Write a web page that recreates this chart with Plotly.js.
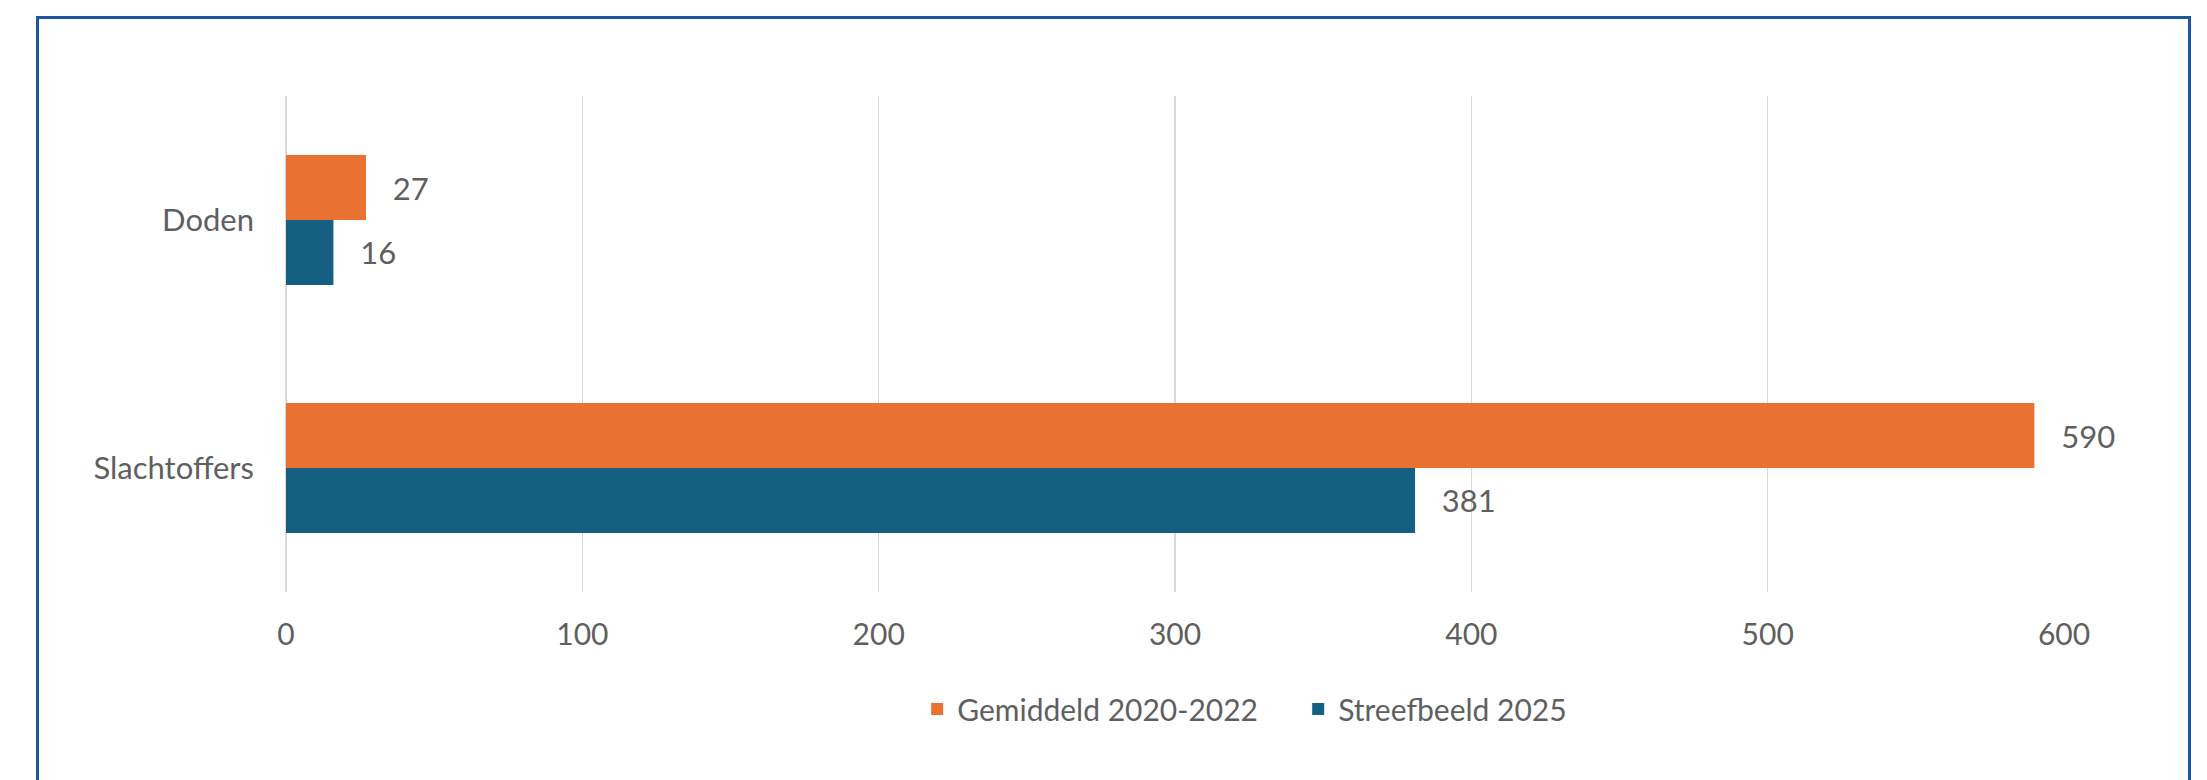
<!DOCTYPE html>
<html>
<head>
<meta charset="utf-8">
<script src="https://cdn.plot.ly/plotly-3.0.1.min.js"></script>
<style>
  html, body { margin: 0; padding: 0; background: #ffffff; }
  #wrap { position: relative; width: 2207px; height: 780px; overflow: hidden; }
  #chart { width: 2207px; height: 780px; }
  #frame { position: absolute; left: 36px; top: 16px; width: 2155px; height: 900px;
           border: 3px solid #1a56a2; pointer-events: none; box-sizing: border-box; }
</style>
</head>
<body>
<div id="wrap">
  <div id="chart"></div>
  <div id="frame"></div>
</div>
<script>
const categories = ['Doden', 'Slachtoffers'];
const seriesNames = ['Gemiddeld 2020-2022', 'Streefbeeld 2025'];
const gemiddeld = [27, 590];
const streefbeeld = [16, 381];
const xTicks = [0, 100, 200, 300, 400, 500, 600];

const textColor = '#5f5f5f';
const fontFamily = 'Lato, "Open Sans", sans-serif';

function barTrace(name, values, color) {
  return {
    type: 'bar',
    orientation: 'h',
    name: name,
    y: categories,
    x: values,
    marker: { color: color },
    texttemplate: '\u00a0\u00a0\u00a0%{x}',
    textposition: 'outside',
    cliponaxis: false,
    constraintext: 'none',
    textfont: { family: fontFamily, size: 31, color: textColor },
    hoverinfo: 'x+name'
  };
}

const data = [
  barTrace(seriesNames[0], gemiddeld, '#E97132'),
  barTrace(seriesNames[1], streefbeeld, '#156082')
];

const layout = {
  width: 2207,
  height: 780,
  margin: { l: 286, r: 143, t: 96, b: 188, pad: 0 },
  paper_bgcolor: '#ffffff',
  plot_bgcolor: '#ffffff',
  font: { family: fontFamily, size: 30, color: textColor },
  barmode: 'group',
  bargap: 0.476,
  bargroupgap: 0,
  showlegend: true,
  legend: {
    orientation: 'h',
    x: 0.355, xanchor: 'left',
    y: -0.236, yanchor: 'middle',
    entrywidth: 336,
    entrywidthmode: 'pixels',
    font: { family: fontFamily, size: 30, color: textColor },
    bgcolor: 'rgba(0,0,0,0)'
  },
  xaxis: {
    range: [0, 600],
    tickvals: xTicks,
    ticktext: xTicks.map(String),
    showgrid: true,
    gridcolor: '#d9d9d9',
    gridwidth: 1.5,
    zeroline: true,
    zerolinecolor: '#d9d9d9',
    zerolinewidth: 1.5,
    showline: false,
    ticks: '',
    ticklabelstandoff: 22,
    tickfont: { family: fontFamily, size: 30, color: textColor },
    fixedrange: true
  },
  yaxis: {
    type: 'category',
    range: [1.5, -0.5],
    showgrid: false,
    zeroline: false,
    showline: false,
    ticks: '',
    ticklabelstandoff: 31,
    tickfont: { family: fontFamily, size: 31, color: textColor },
    fixedrange: true
  }
};

Plotly.newPlot('chart', data, layout, { displayModeBar: false, staticPlot: true });
</script>
</body>
</html>
